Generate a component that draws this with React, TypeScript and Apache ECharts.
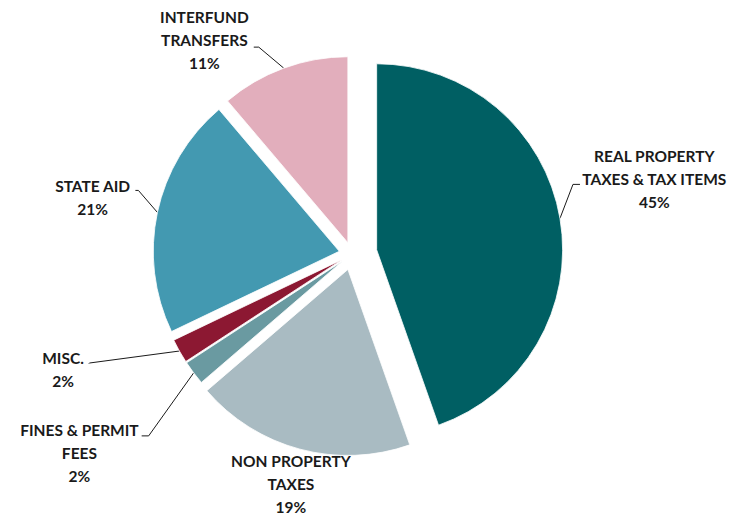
import React, { useEffect, useRef } from "react";
import * as echarts from "echarts";

// ---- data (shares; labels show them rounded) ----
const categories = [
  "REAL PROPERTY\nTAXES & TAX ITEMS",
  "NON PROPERTY\nTAXES",
  "FINES & PERMIT\nFEES",
  "MISC.",
  "STATE AID",
  "INTERFUND\nTRANSFERS",
];
const values = [44.6, 19.1, 2.1, 2.1, 20.9, 11.2];
const colors = ["#005F63", "#A9BBC2", "#6A9AA1", "#8C1832", "#4399B1", "#E2AEBC"];

// ---- style: explode distance of each slice (px) ----
const explode = [25, 16, 12, 12, 13, 12];

// ---- style / label geometry (relative to the library's own leader-line start point) ----
type Geo = { line: number[][] | null; align: string; dx: number; dy: number };
const labelGeo: Geo[] = [
  { line: [[13, -34], [20, -34]], align: "left", dx: 2, dy: -39.5 },
  { line: null, align: "center", dx: -9, dy: 0 },
  { line: [[-45, 63], [-52, 63]], align: "right", dx: -3, dy: -17.5 },
  { line: [[-90, 12], [-90.5, 12.5]], align: "right", dx: -5, dy: -17.5 },
  { line: [[-19, -22], [-22, -22]], align: "right", dx: -5, dy: -15.5 },
  { line: [[-25, -21], [-30, -21]], align: "right", dx: -5, dy: -41.5 },
];
const FONT = "Lato, 'Open Sans', sans-serif";
const CX = 352;
const CY = 254;
const R = 186;
const START = 90;

export default function App() {
  const ref = useRef<HTMLDivElement>(null);
  useEffect(() => {
    if (!ref.current) return;
    document.body.style.margin = "0";
    const chart = echarts.init(ref.current, undefined, { renderer: "svg" });
    const total = values.reduce((a, b) => a + b, 0);

    const makeSeries = (idx: number) => {
      const before = values.slice(0, idx).reduce((a, b) => a + b, 0);
      const midDeg = START - ((before + values[idx] / 2) / total) * 360;
      const mid = (midDeg * Math.PI) / 180;
      const cx = CX + Math.cos(mid) * explode[idx];
      const cy = CY - Math.sin(mid) * explode[idx];
      return {
        type: "pie",
        center: [cx, cy],
        radius: [0, R],
        startAngle: START,
        clockwise: true,
        avoidLabelOverlap: false,
        percentPrecision: 0,
        emphasis: { disabled: true },
        label: {
          show: true,
          position: "outside",
          formatter: (p: any) =>
            String(p.name)
              .split("\n")
              .map((l: string) => `{c|${l}}`)
              .join("\n") + `\n{c|${p.percent}%}`,
          rich: {
            c: {
              align: "center",
              fontFamily: FONT,
              fontWeight: "bold",
              fontSize: 15.5,
              lineHeight: 23,
              color: "#1a1a1a",
            },
          },
        },
        labelLine: { show: true, lineStyle: { color: "#1a1a1a", width: 1 } },
        labelLayout: (params: any) => {
          const g = labelGeo[params.dataIndex];
          const pts = params.labelLinePoints;
          if (!g || !pts || !pts[0] || params.dataIndex !== idx) return {};
          const p0 = pts[0];
          const end = g.line ? [p0[0] + g.line[1][0], p0[1] + g.line[1][1]] : [p0[0], p0[1]];
          const out: any = {
            x: end[0] + g.dx,
            y: end[1] + g.dy,
            align: g.align,
            verticalAlign: "top",
          };
          if (g.line) {
            out.labelLinePoints = [
              [p0[0], p0[1]],
              [p0[0] + g.line[0][0], p0[1] + g.line[0][1]],
              end,
            ];
          }
          return out;
        },
        data: categories.map((name, i) => {
          const visible = i === idx;
          return {
            name,
            value: values[i],
            itemStyle: visible
              ? { color: colors[i], borderColor: "#ffffff", borderWidth: 0.8 }
              : { color: "rgba(0,0,0,0)", borderWidth: 0 },
            label: { show: visible },
            labelLine: { show: visible && labelGeo[i].line !== null },
            silent: !visible,
          };
        }),
      };
    };

    chart.setOption({
      animation: false,
      backgroundColor: "#ffffff",
      tooltip: { show: false },
      series: categories.map((_, i) => makeSeries(i)),
    });
    return () => chart.dispose();
  }, []);
  return <div ref={ref} style={{ width: 735, height: 516 }} />;
}
